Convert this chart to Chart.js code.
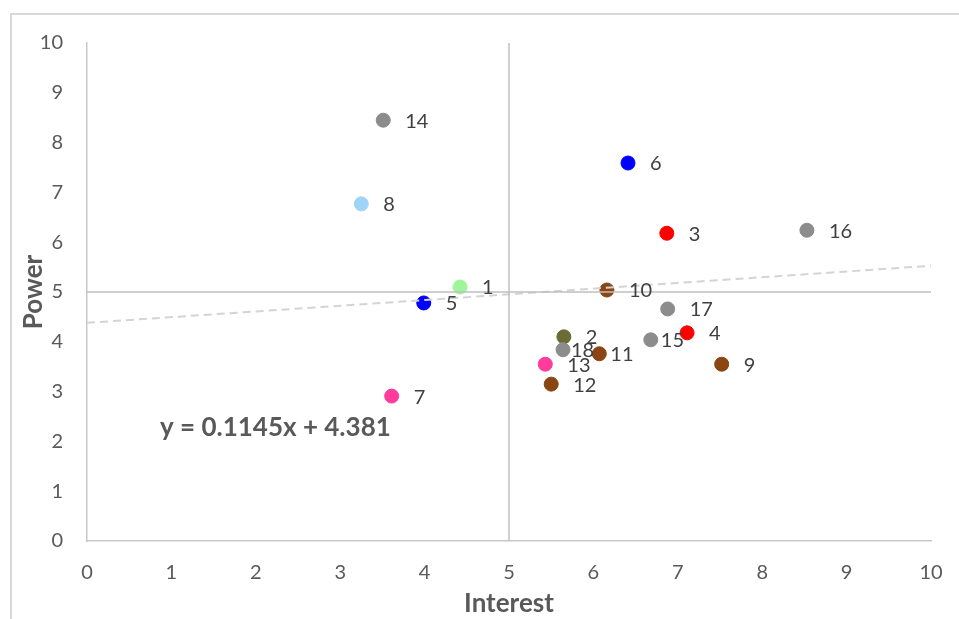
<!DOCTYPE html>
<html>
<head>
    <title>Power / Interest grid</title>
    <script src="https://cdn.jsdelivr.net/npm/chart.js@4.4.1/dist/chart.umd.min.js"></script>
    <style>
        html, body { margin: 0; padding: 0; background: #fff; }
        .chart-container { width: 959px; height: 619px; position: relative; }
    </style>
</head>
<body>
    <div class="chart-container">
        <canvas id="myChart"></canvas>
    </div>

    <script>
        // stakeholder ids
        const ids = [1, 2, 3, 4, 5, 6, 7, 8, 9, 10, 11, 12, 13, 14, 15, 16, 17, 18];
        const interest = [4.42, 5.65, 6.87, 7.11, 3.99, 6.41, 3.61, 3.25, 7.52, 6.16, 6.07, 5.50, 5.43, 3.51, 6.68, 8.53, 6.88, 5.64];
        const power = [5.10, 4.10, 6.18, 4.18, 4.78, 7.59, 2.91, 6.77, 3.55, 5.04, 3.76, 3.15, 3.55, 8.45, 4.04, 6.24, 4.66, 3.84];
        const colors = ['#9ef59a', '#6b6b35', '#ff0000', '#ff0000', '#0000ff', '#0000ff', '#ff3c9c', '#9fd3f7', '#8b4513',
                        '#8b4513', '#8b4513', '#8b4513', '#ff3c9c', '#8c8c8c', '#8c8c8c', '#8c8c8c', '#8c8c8c', '#8c8c8c'];

        const axisTicks = [0, 1, 2, 3, 4, 5, 6, 7, 8, 9, 10];
        const axisMin = 0, axisMax = 10;
        const quadrantSplit = 5;

        // linear trend shown on the chart
        const slope = 0.1145, intercept = 4.381;
        const trendText = 'y = 0.1145x + 4.381';

        const points = ids.map((id, i) => ({ x: interest[i], y: power[i], id: id }));
        const trend = [axisMin, axisMax].map(x => ({ x: x, y: slope * x + intercept }));

        const FONT = 'Lato, "Open Sans", sans-serif';

        // labels that Excel nudged closer to their point
        const labelNudge = { 18: 8, 15: 10, 11: 11 };

        const labelPlugin = {
            id: 'extras',
            beforeDraw(chart) {
                const ctx = chart.ctx;
                ctx.save();
                ctx.fillStyle = '#fff';
                ctx.fillRect(0, 0, chart.width, chart.height);
                ctx.strokeStyle = '#d9d9d9';
                ctx.lineWidth = 2;
                ctx.strokeRect(11, 14, 2000, 2000);
                ctx.restore();
            },
            afterDatasetsDraw(chart) {
                const ctx = chart.ctx;
                const meta = chart.getDatasetMeta(3);
                ctx.save();
                ctx.font = '20px ' + FONT;
                ctx.fillStyle = '#404040';
                ctx.textAlign = 'left';
                ctx.textBaseline = 'middle';
                meta.data.forEach((el, i) => {
                    const id = ids[i];
                    const dx = labelNudge[id] !== undefined ? labelNudge[id] : 22;
                    ctx.fillText(String(id), el.x + dx, el.y + 1);
                });
                const area = chart.chartArea;
                ctx.font = 'bold 26px ' + FONT;
                ctx.fillStyle = '#595959';
                ctx.fillText(trendText, area.left + 73, 428);
                ctx.restore();
            }
        };

        const ctx = document.getElementById('myChart').getContext('2d');
        new Chart(ctx, {
            type: 'scatter',
            data: {
                datasets: [
                    {
                        label: 'vertical split',
                        type: 'line',
                        data: [{ x: quadrantSplit, y: axisMin }, { x: quadrantSplit, y: axisMax }],
                        borderColor: '#bfbfbf',
                        borderWidth: 1.5,
                        pointRadius: 0,
                        fill: false
                    },
                    {
                        label: 'horizontal split',
                        type: 'line',
                        data: [{ x: axisMin, y: quadrantSplit }, { x: axisMax, y: quadrantSplit }],
                        borderColor: '#bfbfbf',
                        borderWidth: 1.5,
                        pointRadius: 0,
                        fill: false
                    },
                    {
                        label: 'Linear trend',
                        type: 'line',
                        data: trend,
                        borderColor: '#d4d4d4',
                        borderWidth: 2,
                        borderDash: [8, 5],
                        pointRadius: 0,
                        fill: false
                    },
                    {
                        label: 'Stakeholders',
                        data: points,
                        backgroundColor: colors,
                        borderColor: colors,
                        pointRadius: 7,
                        pointHoverRadius: 7
                    }
                ]
            },
            options: {
                responsive: true,
                maintainAspectRatio: false,
                animation: false,
                layout: {
                    padding: { left: 0, top: 43, right: 28, bottom: 0 }
                },
                plugins: {
                    legend: { display: false },
                    tooltip: { enabled: false }
                },
                scales: {
                    x: {
                        type: 'linear',
                        min: axisMin,
                        max: axisMax,
                        afterBuildTicks: s => { s.ticks = axisTicks.map(v => ({ value: v })); },
                        afterFit: s => { s.height = 78; s.paddingLeft = 0; s.paddingRight = 0; },
                        grid: { display: false, drawTicks: false },
                        border: { display: true, color: '#c8c8c8', width: 1.5 },
                        ticks: {
                            padding: 20,
                            color: '#595959',
                            font: { family: FONT, size: 20 }
                        },
                        title: {
                            display: true,
                            text: 'Interest',
                            color: '#595959',
                            padding: { top: 0, bottom: 0 },
                            font: { family: FONT, size: 26, weight: 'bold' }
                        }
                    },
                    y: {
                        type: 'linear',
                        min: axisMin,
                        max: axisMax,
                        afterBuildTicks: s => { s.ticks = axisTicks.map(v => ({ value: v })); },
                        afterFit: s => { s.width = 87; s.paddingTop = 0; s.paddingBottom = 0; },
                        grid: { display: false, drawTicks: false },
                        border: { display: true, color: '#c8c8c8', width: 1.5 },
                        ticks: {
                            padding: 24,
                            color: '#595959',
                            font: { family: FONT, size: 20 }
                        },
                        title: {
                            display: true,
                            text: 'Power',
                            color: '#595959',
                            padding: { top: 18, bottom: 0 },
                            font: { family: FONT, size: 26, weight: 'bold' }
                        }
                    }
                }
            },
            plugins: [labelPlugin]
        });
    </script>
</body>
</html>
